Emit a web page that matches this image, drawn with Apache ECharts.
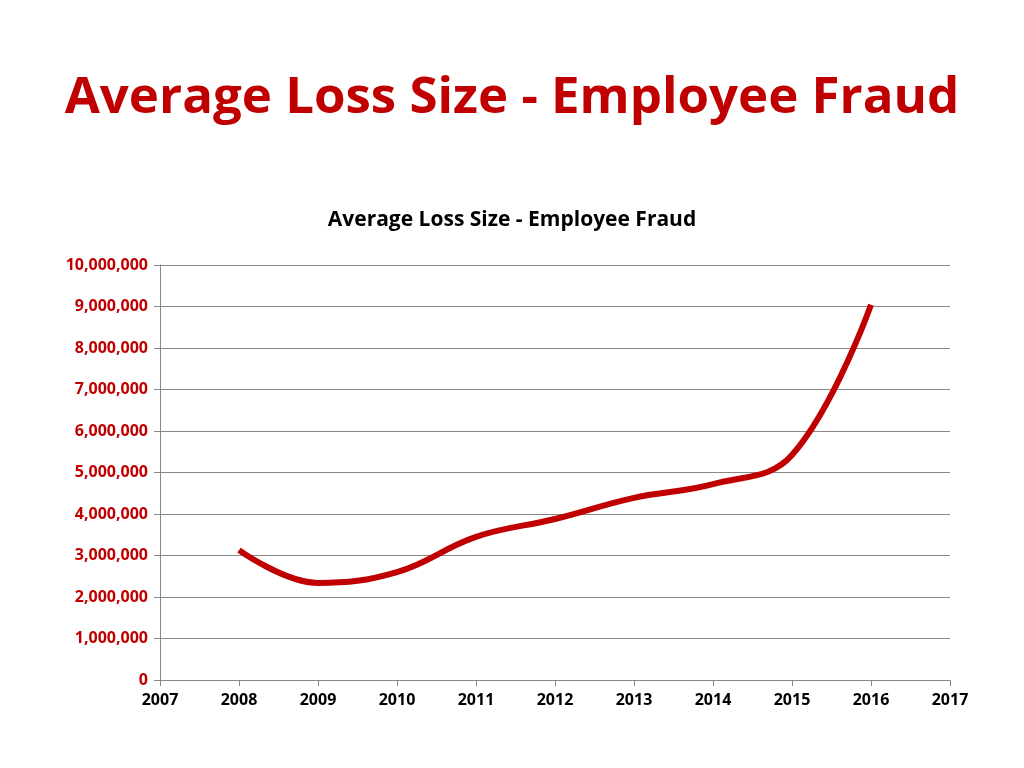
<!DOCTYPE html>
<html>
<head>
<meta charset="utf-8">
<script src="https://cdn.jsdelivr.net/npm/echarts@6/dist/echarts.min.js"></script>
<style>html,body{margin:0;padding:0;background:#fff}#chart{width:1024px;height:768px}</style>
</head>
<body>
<div id="chart"></div>
<script>
// 年份与平均损失
var years = [2008, 2009, 2010, 2011, 2012, 2013, 2014, 2015, 2016];
var avgLoss = [3130000, 2340000, 2600000, 3450000, 3880000, 4390000, 4720000, 5420000, 9040000];

var chart = echarts.init(document.getElementById('chart'));
var font = 'Open Sans';
var option = {
    backgroundColor: '#fff',
    animation: false,
    title: [{
        text: 'Average Loss Size - Employee Fraud',
        left: 'center', top: 68,
        textStyle: { color: '#c00000', fontSize: 51, fontWeight: 'bold', fontFamily: font }
    }, {
        text: 'Average Loss Size - Employee Fraud',
        left: 'center', top: 205,
        textStyle: { color: '#000', fontSize: 21, fontWeight: 'bold', fontFamily: font }
    }],
    grid: { left: 160, right: 74, top: 265, bottom: 88 },
    xAxis: {
        type: 'value', min: 2007, max: 2017, interval: 1,
        axisLine: { lineStyle: { color: '#888' } },
        axisTick: { show: true, length: 6, lineStyle: { color: '#888' } },
        splitLine: { show: false },
        axisLabel: {
            color: '#000', fontWeight: 'bold', fontSize: 16, fontFamily: font, margin: 12,
            formatter: function (v) { return String(v); }
        }
    },
    yAxis: {
        type: 'value', min: 0, max: 10000000, interval: 1000000,
        axisLine: { show: true, lineStyle: { color: '#888' } },
        axisTick: { show: true, length: 6, lineStyle: { color: '#888' } },
        splitLine: { lineStyle: { color: '#888' } },
        axisLabel: {
            color: '#c00000', fontWeight: 'bold', fontSize: 16, fontFamily: font, margin: 12,
            formatter: function (v) { return v.toLocaleString('en-US'); }
        }
    },
    series: [{
        type: 'line',
        smooth: 0.4,
        symbol: 'none',
        lineStyle: { color: '#c00000', width: 6 },
        data: years.map(function (y, i) { return [y, avgLoss[i]]; })
    }]
};
chart.setOption(option);
</script>
</body>
</html>
